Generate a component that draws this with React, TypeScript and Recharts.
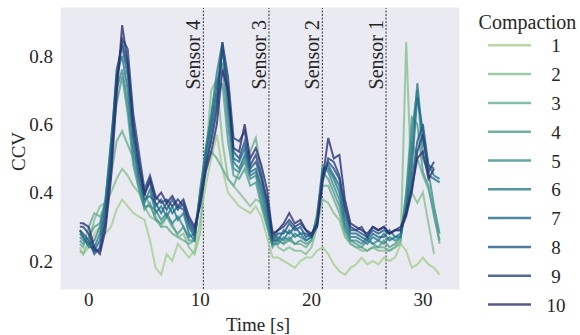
import React from "react";
import { LineChart, Line, XAxis, YAxis, CartesianGrid, ReferenceLine, Label } from "recharts";

const FONT = '"Liberation Serif", "Times New Roman", serif';

const TIME = [-0.8, -0.5, 0, 0.5, 1, 1.5, 2, 2.5, 3, 3.5, 4, 4.5, 5, 5.5, 6, 6.5, 7, 7.5, 8, 8.5, 9, 9.5, 10, 10.5, 11, 11.5, 12, 12.5, 13, 13.5, 14, 14.5, 15, 15.5, 16, 16.5, 17, 17.5, 18, 18.5, 19, 19.5, 20, 20.5, 21, 21.5, 22, 22.5, 23, 23.5, 24, 24.5, 25, 25.5, 26, 26.5, 27, 27.5, 28, 28.5, 29, 29.5, 30, 30.5, 31, 31.5];

const S1 = [0.24, 0.22, 0.24, 0.28, 0.30, 0.28, 0.30, 0.35, 0.38, 0.36,
  0.34, 0.33, 0.32, 0.26, 0.18, 0.16, 0.22, 0.20, 0.25, 0.23,
  0.21, 0.23, 0.32, 0.42, 0.50, 0.57, 0.47, 0.40, 0.38, 0.36,
  0.35, 0.34, 0.36, 0.33, 0.27, 0.21, 0.21, 0.20, 0.19, 0.18,
  0.20, 0.21, 0.21, 0.23, 0.24, 0.22, 0.19, 0.17, 0.16, 0.18,
  0.19, 0.21, 0.19, 0.20, 0.19, 0.21, 0.20, 0.21, 0.25, 0.23,
  0.18, 0.19, 0.21, 0.19, 0.18, 0.16];
const S2 = [0.23, 0.22, 0.26, 0.32, 0.36, 0.37, 0.40, 0.44, 0.47, 0.45,
  0.42, 0.40, 0.36, 0.33, 0.32, 0.30, 0.33, 0.31, 0.27, 0.28,
  0.24, 0.22, 0.28, 0.50, 0.70, 0.73, 0.55, 0.44, 0.42, 0.40,
  0.38, 0.36, 0.38, 0.37, 0.33, 0.28, 0.24, 0.23, 0.24, 0.23,
  0.23, 0.22, 0.24, 0.30, 0.38, 0.37, 0.34, 0.32, 0.27, 0.25,
  0.24, 0.23, 0.23, 0.24, 0.23, 0.23, 0.23, 0.24, 0.25, 0.84,
  0.40, 0.37, 0.40, 0.31, 0.22, null];
const S3 = [0.25, 0.24, 0.30, 0.34, 0.33, 0.36, 0.45, 0.55, 0.58, 0.54,
  0.50, 0.49, 0.40, 0.36, 0.33, 0.30, 0.30, 0.28, 0.27, 0.26,
  0.25, 0.26, 0.40, 0.48, 0.52, 0.50, 0.47, 0.44, 0.42, 0.46,
  0.50, 0.52, 0.56, 0.46, 0.36, 0.29, 0.26, 0.25, 0.26, 0.25,
  0.25, 0.24, 0.26, 0.32, 0.42, 0.42, 0.38, 0.34, 0.28, 0.25,
  0.24, 0.24, 0.23, 0.24, 0.24, 0.24, 0.23, 0.24, 0.26, 0.40,
  0.55, 0.50, 0.45, 0.41, 0.34, 0.25];
const S4 = [0.26, 0.25, 0.27, 0.30, 0.31, 0.38, 0.52, 0.66, 0.74, 0.63,
  0.48, 0.41, 0.35, 0.37, 0.32, 0.31, 0.33, 0.30, 0.28, 0.30,
  0.26, 0.26, 0.41, 0.52, 0.60, 0.68, 0.72, 0.55, 0.45, 0.44,
  0.47, 0.42, 0.43, 0.36, 0.30, 0.24, 0.26, 0.25, 0.27, 0.25,
  0.26, 0.25, 0.26, 0.34, 0.46, 0.44, 0.40, 0.36, 0.29, 0.26,
  0.25, 0.24, 0.26, 0.25, 0.24, 0.26, 0.24, 0.25, 0.27, 0.40,
  0.62, 0.60, 0.46, 0.42, 0.33, 0.26];
const S5 = [0.27, 0.26, 0.25, 0.26, 0.30, 0.38, 0.55, 0.70, 0.76, 0.66,
  0.50, 0.42, 0.36, 0.36, 0.35, 0.32, 0.34, 0.31, 0.33, 0.30,
  0.27, 0.28, 0.40, 0.53, 0.62, 0.72, 0.78, 0.60, 0.47, 0.46,
  0.49, 0.44, 0.45, 0.38, 0.31, 0.25, 0.25, 0.27, 0.26, 0.28,
  0.27, 0.26, 0.27, 0.33, 0.48, 0.46, 0.42, 0.38, 0.30, 0.26,
  0.26, 0.25, 0.27, 0.25, 0.26, 0.25, 0.27, 0.26, 0.27, 0.38,
  0.58, 0.70, 0.50, 0.46, 0.36, 0.28];
const S6 = [0.28, 0.27, 0.24, 0.24, 0.28, 0.37, 0.55, 0.74, 0.80, 0.70,
  0.53, 0.44, 0.37, 0.41, 0.34, 0.36, 0.33, 0.36, 0.32, 0.34,
  0.28, 0.26, 0.39, 0.52, 0.63, 0.75, 0.84, 0.65, 0.49, 0.47,
  0.51, 0.45, 0.46, 0.40, 0.33, 0.25, 0.27, 0.26, 0.29, 0.27,
  0.28, 0.26, 0.27, 0.32, 0.47, 0.47, 0.44, 0.40, 0.31, 0.27,
  0.27, 0.26, 0.25, 0.27, 0.26, 0.28, 0.26, 0.27, 0.27, 0.36,
  0.52, 0.72, 0.55, 0.48, 0.45, 0.44];
const S7 = [0.29, 0.27, 0.25, 0.23, 0.26, 0.35, 0.52, 0.76, 0.83, 0.74,
  0.56, 0.45, 0.38, 0.39, 0.37, 0.34, 0.37, 0.34, 0.36, 0.35,
  0.30, 0.27, 0.38, 0.50, 0.60, 0.70, 0.83, 0.68, 0.50, 0.49,
  0.53, 0.46, 0.47, 0.42, 0.35, 0.26, 0.26, 0.29, 0.28, 0.30,
  0.28, 0.28, 0.27, 0.31, 0.46, 0.48, 0.45, 0.42, 0.33, 0.28,
  0.28, 0.27, 0.26, 0.28, 0.27, 0.27, 0.29, 0.27, 0.28, 0.35,
  0.47, 0.68, 0.58, 0.45, 0.44, 0.43];
const S8 = [0.29, 0.28, 0.26, 0.22, 0.24, 0.33, 0.50, 0.74, 0.84, 0.77,
  0.58, 0.47, 0.40, 0.43, 0.36, 0.38, 0.35, 0.38, 0.35, 0.37,
  0.31, 0.28, 0.37, 0.47, 0.57, 0.66, 0.82, 0.71, 0.52, 0.50,
  0.55, 0.47, 0.49, 0.44, 0.37, 0.26, 0.28, 0.28, 0.31, 0.29,
  0.30, 0.27, 0.28, 0.30, 0.45, 0.49, 0.47, 0.44, 0.35, 0.29,
  0.29, 0.28, 0.27, 0.29, 0.28, 0.29, 0.28, 0.29, 0.29, 0.34,
  0.43, 0.55, 0.60, 0.48, 0.47, null];
const S9 = [0.30, 0.30, 0.28, 0.23, 0.23, 0.31, 0.47, 0.72, 0.85, 0.82,
  0.63, 0.52, 0.41, 0.45, 0.39, 0.37, 0.38, 0.36, 0.38, 0.36,
  0.32, 0.29, 0.38, 0.48, 0.55, 0.64, 0.84, 0.74, 0.56, 0.55,
  0.58, 0.48, 0.51, 0.45, 0.38, 0.27, 0.29, 0.30, 0.32, 0.30,
  0.31, 0.29, 0.27, 0.30, 0.43, 0.50, 0.49, 0.45, 0.36, 0.30,
  0.29, 0.30, 0.27, 0.30, 0.29, 0.30, 0.28, 0.29, 0.29, 0.33,
  0.40, 0.52, 0.57, 0.46, 0.49, null];
const S10 = [0.31, 0.31, 0.30, 0.24, 0.22, 0.29, 0.44, 0.68, 0.89, 0.78,
  0.60, 0.49, 0.39, 0.44, 0.38, 0.40, 0.37, 0.39, 0.36, 0.38,
  0.33, 0.30, 0.36, 0.46, 0.52, 0.60, 0.76, 0.70, 0.53, 0.52,
  0.60, 0.50, 0.53, 0.48, 0.41, 0.28, 0.29, 0.31, 0.34, 0.31,
  0.32, 0.29, 0.28, 0.31, 0.44, 0.56, 0.50, 0.51, 0.38, 0.31,
  0.30, 0.29, 0.28, 0.30, 0.29, 0.30, 0.28, 0.29, 0.30, 0.34,
  0.41, 0.50, 0.52, 0.44, 0.47, null];

const SERIES_NAMES = ["1", "2", "3", "4", "5", "6", "7", "8", "9", "10"];
const COLORS = ["#a5cd90", "#86be91", "#69ae90", "#519e8f", "#3d8e8e", "#2b7c8c", "#206b89", "#205984", "#27457c", "#2a2f70"];
const SENSOR_TIMES = [10.29, 16.18, 20.97, 26.69];
const SENSOR_LABELS = ["Sensor 4", "Sensor 3", "Sensor 2", "Sensor 1"];
const X_TICKS = [0, 10, 20, 30];
const Y_TICKS = [0.2, 0.4, 0.6, 0.8];

const ALL_SERIES = [S1, S2, S3, S4, S5, S6, S7, S8, S9, S10];

const W = 580;
const H = 335;
const M = { top: 8, right: 121, bottom: 0, left: 8 };
const YW = 53;
const XH = 46;

const TEXT = "#262626";

function SensorLabel(props: any) {
  const vb = props.viewBox || {};
  const x = (vb.x ?? 0) - 3;
  const y = (vb.y ?? 8) + 12;
  return (
    <text x={x} y={y} transform={`rotate(-90 ${x} ${y})`} textAnchor="end" fontFamily={FONT} fontSize={20} fill={TEXT}>
      {props.text}
    </text>
  );
}

export default function App() {
  const data = TIME.map((t, i) => {
    const row: any = { t };
    ALL_SERIES.forEach((s, k) => {
      row["s" + (k + 1)] = s[i];
    });
    return row;
  });
  const plotLeft = M.left + YW;
  const plotRight = W - M.right;
  const plotTop = M.top;
  const plotBottom = H - XH;
  return (
    <div style={{ position: "fixed", left: 0, top: 0, width: W, height: H, background: "#fff" }}>
      <LineChart width={W} height={H} data={data} margin={M}>
        <CartesianGrid fill="#EAEAF2" fillOpacity={1} stroke="#EAEAF2" />
        <XAxis
          dataKey="t"
          type="number"
          domain={[-2.49, 33.24]}
          allowDataOverflow
          ticks={X_TICKS}
          axisLine={false}
          tickLine={false}
          tickSize={4}
          tickMargin={0}
          height={XH}
          tick={{ fontSize: 19, fill: TEXT, fontFamily: FONT }}
        >
          <Label
            content={() => (
              <text x={(plotLeft + plotRight) / 2 - 2} y={331} textAnchor="middle" fontFamily={FONT} fontSize={19} fill={TEXT}>
                Time [s]
              </text>
            )}
          />
        </XAxis>
        <YAxis
          type="number"
          domain={[0.118, 0.94]}
          allowDataOverflow
          ticks={Y_TICKS}
          axisLine={false}
          tickLine={false}
          width={YW}
          tick={{ fontSize: 19, fill: TEXT, fontFamily: FONT }}
          tickFormatter={(v: number) => v.toFixed(1)}
        >
          <Label
            content={() => {
              const cx = 25;
              const cy = (plotTop + plotBottom) / 2 + 3;
              return (
                <text x={cx} y={cy} transform={`rotate(-90 ${cx} ${cy})`} textAnchor="middle" fontFamily={FONT} fontSize={19} fill={TEXT}>
                  CCV
                </text>
              );
            }}
          />
        </YAxis>
        {SENSOR_TIMES.map((x, i) => (
          <ReferenceLine
            key={"sensor" + i}
            x={x}
            stroke="#333"
            strokeWidth={1}
            strokeDasharray="2 1.5"
            label={<SensorLabel text={SENSOR_LABELS[i]} />}
          />
        ))}
        {ALL_SERIES.map((_, k) => (
          <Line
            key={"line" + k}
            type="linear"
            dataKey={"s" + (k + 1)}
            name={SERIES_NAMES[k]}
            stroke={COLORS[k]}
            strokeOpacity={0.8}
            strokeWidth={2}
            dot={false}
            activeDot={false}
            isAnimationActive={false}
            connectNulls={false}
          />
        ))}
      </LineChart>
      <svg width={W} height={H} style={{ position: "absolute", left: 0, top: 0, pointerEvents: "none" }}>
        <text x={527.5} y={29} textAnchor="middle" fontFamily={FONT} fontSize={20} fill={TEXT}>
          Compaction
        </text>
        {SERIES_NAMES.map((name, k) => {
          const y = 45.3 + k * 28.8;
          return (
            <g key={"leg" + k}>
              <line x1={488} x2={531} y1={y} y2={y} stroke={COLORS[k]} strokeOpacity={0.8} strokeWidth={2.5} />
              <text x={556} y={y + 7} textAnchor="middle" fontFamily={FONT} fontSize={19} fill={TEXT}>
                {name}
              </text>
            </g>
          );
        })}
      </svg>
    </div>
  );
}
